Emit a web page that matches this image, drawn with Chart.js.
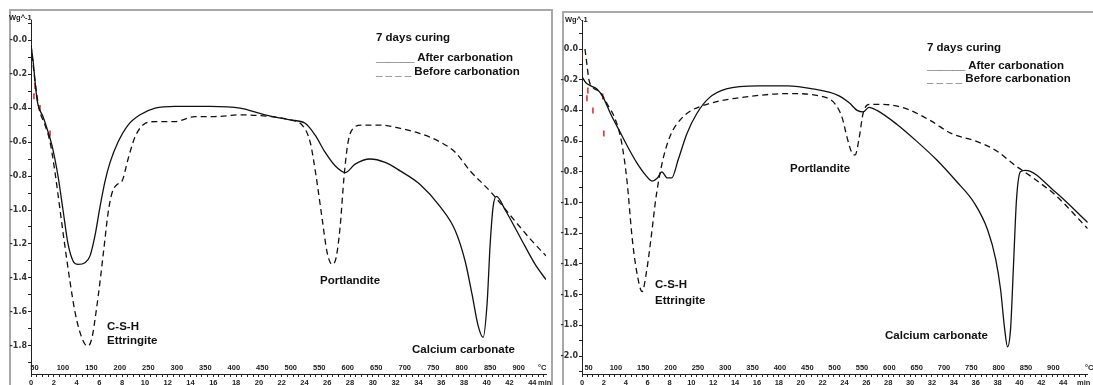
<!DOCTYPE html>
<html>
<head>
<meta charset="utf-8">
<script src="https://cdn.jsdelivr.net/npm/chart.js@4.4.1/dist/chart.umd.min.js"></script>
<style>
  body { margin: 0; background: #fff; }
  #wrap { position: relative; width: 1093px; height: 385px; overflow: hidden; font-family: "Liberation Sans", Arial, sans-serif; }
  .frame { position: absolute; border: 2px solid #a8a8a8; height: 440px; }
  canvas { position: absolute; top: 0; }
  .lbl { position: absolute; font-weight: bold; font-size: 11.5px; color: #111; line-height: 14px; white-space: pre; }
  .ax { position: absolute; font-weight: bold; font-size: 7.5px; color: #222; white-space: pre; }
</style>
</head>
<body>
<div id="wrap">
  <div class="frame" style="left:9px;top:9px;width:540px;"></div>
  <div class="frame" style="left:562px;top:11px;width:600px;"></div>

  <canvas id="chart-left" width="552" height="385" style="left:0px"></canvas>
  <canvas id="chart-right" width="541" height="385" style="left:552px"></canvas>

  <!-- left panel texts -->
  <div class="ax" style="left:9px;top:13px">Wg^-1</div>
  <div class="ax" style="left:538px;top:363px">°C</div>
  <div class="ax" style="left:538px;top:378px">min</div>
  <div class="lbl" style="left:376px;top:30px">7 days curing</div>
  <div class="lbl" style="left:376px;top:50px">______ After carbonation</div>
  <div class="lbl" style="left:376px;top:64px">_ _ _ _ Before carbonation</div>
  <div class="lbl" style="left:107px;top:319px">C-S-H<br>Ettringite</div>
  <div class="lbl" style="left:320px;top:273px">Portlandite</div>
  <div class="lbl" style="left:412px;top:342px">Calcium carbonate</div>

  <!-- right panel texts -->
  <div class="ax" style="left:565px;top:15px">Wg^-1</div>
  <div class="ax" style="left:1085px;top:363px">°C</div>
  <div class="ax" style="left:1077px;top:378px">min</div>
  <div class="lbl" style="left:927px;top:40px">7 days curing</div>
  <div class="lbl" style="left:927px;top:58px">______ After carbonation</div>
  <div class="lbl" style="left:927px;top:71px">_ _ _ _ Before carbonation</div>
  <div class="lbl" style="left:655px;top:276px;line-height:16px">C-S-H<br>Ettringite</div>
  <div class="lbl" style="left:790px;top:161px">Portlandite</div>
  <div class="lbl" style="left:885px;top:328px">Calcium carbonate</div>
</div>

<script>
// time in min, heat flow in W/g
var leftAfterTime = [0,0.18,0.35,0.53,0.70,1.05,1.40,1.84,2.37,2.81,3.25,3.69,4.13,4.74,5.18,5.62,6.06,6.50,6.94,7.64,8.52,9.57,10.89,12.64,15.72,18.35,20.54,22.74,24.06,24.94,25.81,26.69,27.57,28.45,29.76,31.08,32.40,34.15,35.91,37.23,38.10,38.72,39.24,39.68,40.03,40.30,40.56,40.85,41.62,42.93,44.25,45.20];
var leftAfterVal = [-0.03,-0.12,-0.24,-0.35,-0.40,-0.45,-0.52,-0.62,-0.80,-1.00,-1.20,-1.30,-1.32,-1.31,-1.27,-1.15,-0.98,-0.83,-0.72,-0.60,-0.50,-0.44,-0.40,-0.39,-0.39,-0.40,-0.44,-0.47,-0.49,-0.56,-0.66,-0.74,-0.78,-0.73,-0.70,-0.72,-0.77,-0.85,-0.98,-1.12,-1.30,-1.50,-1.68,-1.75,-1.55,-1.20,-0.98,-0.92,-1.00,-1.16,-1.32,-1.41];

var leftBeforeTime = [0,0.35,0.70,1.23,1.67,2.11,2.55,2.99,3.42,3.86,4.30,4.74,5.00,5.36,5.71,6.06,6.41,6.76,7.11,7.55,7.99,8.52,9.13,9.83,10.89,12.64,14.40,16.15,18.35,20.98,22.74,23.79,24.50,25.02,25.55,25.99,26.43,26.78,27.13,27.48,27.83,28.27,29.06,30.64,32.40,34.15,35.91,37.23,38.54,40.30,42.05,43.81,45.20];
var leftBeforeVal = [-0.03,-0.24,-0.40,-0.50,-0.60,-0.78,-1.00,-1.22,-1.42,-1.60,-1.72,-1.79,-1.80,-1.75,-1.60,-1.42,-1.22,-1.02,-0.90,-0.85,-0.83,-0.70,-0.57,-0.50,-0.48,-0.48,-0.45,-0.45,-0.44,-0.45,-0.47,-0.50,-0.60,-0.80,-1.05,-1.25,-1.32,-1.28,-1.10,-0.80,-0.60,-0.52,-0.50,-0.50,-0.52,-0.55,-0.60,-0.66,-0.77,-0.89,-1.03,-1.17,-1.27];

var rightAfterTime = [0,0.36,0.81,1.36,1.90,2.60,3.40,4.20,5.00,5.80,6.40,6.90,7.30,7.80,8.20,8.80,9.60,10.50,11.60,13.20,16.11,18.82,21.09,23.35,24.43,25.16,25.70,26.24,26.97,28.78,30.59,32.40,34.21,35.84,37.10,37.83,38.28,38.64,38.91,39.19,39.46,39.73,40.09,40.54,43.26,46.24];
var rightAfterVal = [-0.18,-0.22,-0.24,-0.26,-0.31,-0.42,-0.53,-0.64,-0.74,-0.82,-0.86,-0.84,-0.80,-0.84,-0.84,-0.72,-0.55,-0.42,-0.32,-0.26,-0.24,-0.24,-0.26,-0.30,-0.35,-0.40,-0.41,-0.38,-0.40,-0.49,-0.60,-0.72,-0.86,-1.00,-1.18,-1.37,-1.57,-1.82,-1.94,-1.82,-1.40,-0.98,-0.80,-0.79,-0.93,-1.13];

var rightBeforeTime = [0.27,0.45,0.63,0.99,1.63,2.40,3.00,3.60,4.10,4.60,5.00,5.50,5.90,6.30,6.80,7.40,8.10,9.00,10.00,11.00,12.49,15.20,18.82,21.99,23.17,23.80,24.25,24.71,24.98,25.34,25.70,26.24,27.42,29.68,31.95,33.76,36.02,37.83,39.64,41.45,43.26,46.24];
var rightBeforeVal = [0,-0.10,-0.20,-0.25,-0.28,-0.37,-0.45,-0.60,-0.85,-1.24,-1.45,-1.58,-1.45,-1.24,-0.95,-0.72,-0.56,-0.46,-0.40,-0.37,-0.34,-0.31,-0.29,-0.31,-0.36,-0.45,-0.58,-0.68,-0.69,-0.58,-0.42,-0.36,-0.36,-0.39,-0.47,-0.55,-0.60,-0.66,-0.76,-0.85,-0.95,-1.17];

// little red step marks near the start
var leftMarkTime = [0, 0.26, 0.35, 0.79, 1.67];
var leftMarkVal = [-0.04, -0.33, -0.27, -0.40, -0.55];
var rightMarkTime = [0, 0.45, 0.54, 1.00, 1.90, 2.00];
var rightMarkVal = [-0.04, -0.32, -0.27, -0.40, -0.31, -0.55];

Chart.defaults.font.family = '"Liberation Sans", Arial, sans-serif';
Chart.defaults.color = '#222';

function pairs(ts, vs) {
    return ts.map(function(t, i) { return { x: t, y: vs[i] }; });
}

function panelChart(id, p) {
    var ctx = document.getElementById(id).getContext('2d');
    return new Chart(ctx, {
        type: 'line',
        data: {
            datasets: [
                {
                    label: 'After carbonation',
                    data: pairs(p.afterTime, p.afterVal),
                    borderColor: '#111', borderWidth: 1.3,
                    pointRadius: 0, cubicInterpolationMode: 'monotone', xAxisID: 'x'
                },
                {
                    label: 'Before carbonation',
                    data: pairs(p.beforeTime, p.beforeVal),
                    borderColor: '#111', borderWidth: 1.3, borderDash: [6, 4],
                    pointRadius: 0, cubicInterpolationMode: 'monotone', xAxisID: 'x'
                },
                {
                    label: 'marks',
                    data: pairs(p.markTime, p.markVal),
                    showLine: false, pointStyle: 'line', rotation: 90,
                    pointRadius: 3, borderColor: '#e00000', borderWidth: 1.3, xAxisID: 'x'
                }
            ]
        },
        options: {
            responsive: false,
            animation: false,
            devicePixelRatio: 1,
            layout: { padding: { top: 20, right: p.padRight, bottom: 0, left: 0 } },
            plugins: { legend: { display: false }, tooltip: { enabled: false } },
            scales: {
                x: {
                    type: 'linear', axis: 'x', position: 'bottom', weight: 1,
                    min: 0, max: p.tMax,
                    border: { display: true, color: '#222', width: 1 },
                    grid: { drawOnChartArea: false, tickLength: 3, color: '#222' },
                    ticks: {
                        stepSize: 0.5, includeBounds: false, autoSkip: false, maxRotation: 0,
                        padding: 1, font: { size: 7.5, weight: 'bold' },
                        callback: function(v) {
                            var r = Math.round(v * 2) / 2;
                            return (r % 2 === 0 && r <= 44) ? String(r) : '';
                        }
                    },
                    afterFit: function(s) { s.height = 11; }
                },
                // temperature scale, 20 K/min, shares the pixel range of the time scale
                temp: {
                    type: 'linear', axis: 'x', position: 'bottom', weight: 0,
                    min: p.t0, max: p.t0 + 20 * p.tMax,
                    border: { display: false },
                    grid: { display: false },
                    ticks: {
                        stepSize: 50, includeBounds: false, autoSkip: false, maxRotation: 0,
                        mirror: true, padding: 2, font: { size: 7.5, weight: 'bold' },
                        callback: function(v) {
                            var r = Math.round(v);
                            return (r % 50 === 0 && r <= 900) ? String(r) : '';
                        }
                    },
                    afterFit: function(s) { s.height = 0; }
                },
                y: {
                    type: 'linear', position: 'left',
                    min: p.yMin, max: p.yMax,
                    border: { display: true, color: '#222', width: 1 },
                    grid: { drawOnChartArea: false, tickLength: 3, color: '#222' },
                    ticks: {
                        stepSize: 0.1, includeBounds: false, autoSkip: false, padding: 1,
                        color: '#333', font: { family: '"DejaVu Sans", sans-serif', size: 8, weight: 'bold' },
                        callback: function(v) {
                            var k = Math.round(v * 10);
                            if (k % 2 !== 0) return '';
                            if (k === 0) return p.zeroLabel;
                            return (k / 10).toFixed(1);
                        }
                    },
                    afterFit: function(s) { s.width = p.yWidth; }
                }
            }
        }
    });
}

panelChart('chart-left', {
    afterTime: leftAfterTime, afterVal: leftAfterVal,
    beforeTime: leftBeforeTime, beforeVal: leftBeforeVal,
    markTime: leftMarkTime, markVal: leftMarkVal,
    tMax: 45.2, t0: 44, yMin: -1.965, yMax: 0.118,
    yWidth: 31, padRight: 6, zeroLabel: '-0.0'
});

panelChart('chart-right', {
    afterTime: rightAfterTime, afterVal: rightAfterVal,
    beforeTime: rightBeforeTime, beforeVal: rightBeforeVal,
    markTime: rightMarkTime, markVal: rightMarkVal,
    tMax: 46.24, t0: 38, yMin: -2.117, yMax: 0.189,
    yWidth: 30, padRight: 0, zeroLabel: '0.0'
});
</script>
</body>
</html>
